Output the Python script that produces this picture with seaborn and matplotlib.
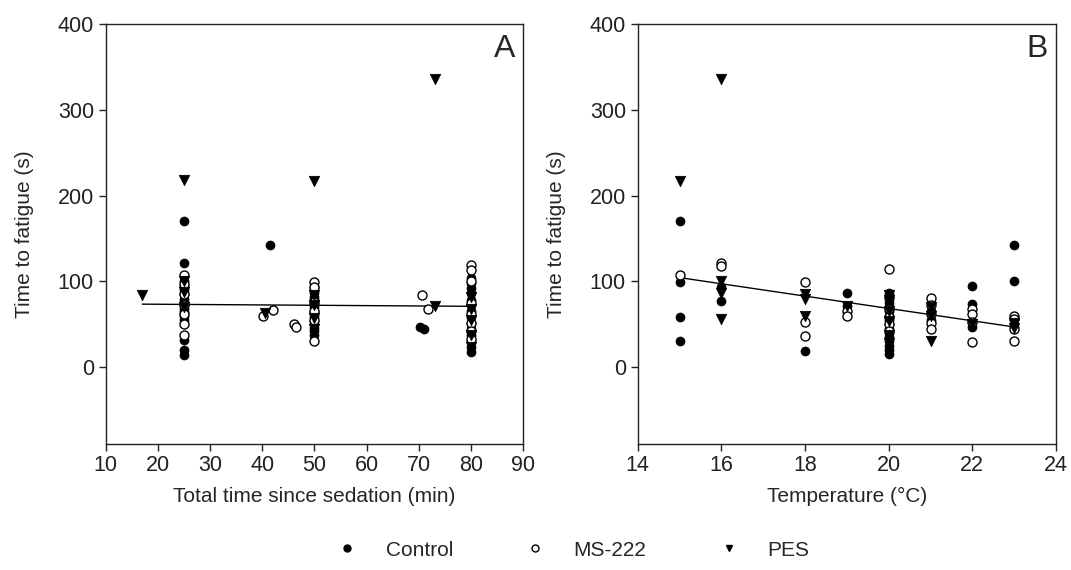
"""Time to fatigue vs. time since sedation (A) and temperature (B)."""

import matplotlib

matplotlib.use("Agg")
import matplotlib.pyplot as plt
import numpy as np
import seaborn as sns
from matplotlib.lines import Line2D


# Panel A: total time since sedation (min)
A_CONTROL_X = [25] * 16 + [41.5, 70.3, 71] + [50] * 15 + [80] * 14
A_CONTROL_Y = [170, 122, 100, 95, 90, 85, 80, 76, 72, 68, 64, 60, 55, 32, 20, 14,
               143, 47, 45,
               94, 90, 86, 82, 78, 74, 70, 66, 62, 58, 54, 50, 46, 42, 38,
               104, 98, 92, 87, 78, 72, 66, 58, 52, 45, 38, 30, 24, 18]
A_MS222_X = [25] * 7 + [40.2, 42.1, 46, 46.5] + [50] * 6 + [70.5, 71.8] + [80] * 8
A_MS222_Y = [107, 97, 85, 73, 62, 50, 37,
             60, 67, 50, 47,
             99, 93, 76, 65, 55, 30,
             84, 68,
             119, 113, 100, 75, 62, 52, 42, 33]
A_PES_X = [17] + [25] * 4 + [40.5] + [50] * 5 + [73, 73] + [80] * 5
A_PES_Y = [84, 218, 100, 88, 70, 63, 217, 84, 72, 57, 45, 336, 71, 82, 68, 55, 38, 24]
A_FIT = [74.2, -0.04]  # intercept, slope

# Panel B: temperature (°C)
B_CONTROL_X = [15] * 4 + [16] * 2 + [18] + [19] * 2 + [20] * 15 + [21] * 3 + [22] * 4 + [23] * 3
B_CONTROL_Y = [170, 99, 59, 31, 93, 77, 19, 86, 71,
               86, 80, 75, 70, 65, 60, 55, 50, 45, 40, 35, 30, 25, 20, 15,
               75, 65, 55, 95, 74, 53, 47, 143, 101, 48]
B_MS222_X = [15] + [16] * 2 + [18] * 3 + [19] * 2 + [20] * 6 + [21] * 5 + [22] * 4 + [23] * 4
B_MS222_Y = [107, 122, 118, 99, 53, 36, 65, 60,
             114, 82, 68, 58, 50, 42,
             81, 72, 62, 52, 45, 68, 62, 53, 29, 60, 56, 44, 30]
B_PES_X = [15] + [16] * 4 + [18] * 3 + [19] + [20] * 6 + [21] * 3 + [22] + [23] * 2
B_PES_Y = [217, 336, 101, 86, 56, 85, 80, 60, 71,
           84, 78, 66, 54, 38, 28, 70, 60, 31, 50, 52, 46]
B_FIT = [212.5, -7.2]

GROUPS = ["Control", "MS-222", "PES"]

sns.set_style("ticks")
plt.rcParams["font.family"] = ["Liberation Sans", "DejaVu Sans"]

fig = plt.figure(figsize=(10.71, 5.7), dpi=100)
ax_a = fig.add_axes([0.0987, 0.2205, 0.3899, 0.7369])
ax_b = fig.add_axes([0.5954, 0.2205, 0.3906, 0.7369])


def draw_panel(ax, series, fit, xlim, xticks, xlabel, letter):
    styles = [
        dict(marker="o", s=42, color="black", edgecolor="black"),
        dict(marker="o", s=42, color="white", edgecolor="black", linewidth=1.0),
        dict(marker="v", s=55, color="black", edgecolor="black"),
    ]
    for (xs, ys), st in zip(series, styles):
        sns.scatterplot(x=xs, y=ys, ax=ax, zorder=3, **st)
    all_x = np.concatenate([np.asarray(s[0], float) for s in series])
    fx = np.array([all_x.min(), all_x.max()])
    sns.lineplot(x=fx, y=fit[0] + fit[1] * fx, ax=ax, color="black", linewidth=1.0, zorder=2)
    ax.set_xlim(*xlim)
    ax.set_ylim(-90, 400)
    ax.set_xticks(xticks)
    ax.set_yticks([0, 100, 200, 300, 400])
    ax.tick_params(labelsize=15.5, length=5, width=1, direction="out", colors="#222222")
    ax.tick_params(axis="x", pad=2.5)
    for sp in ax.spines.values():
        sp.set_visible(True)
        sp.set_linewidth(1.0)
        sp.set_color("#222222")
    ax.set_xlabel(xlabel, fontsize=15, labelpad=8)
    ax.set_ylabel("Time to fatigue (s)", fontsize=15, labelpad=17)
    ax.text(0.955, 0.94, letter, transform=ax.transAxes, fontsize=23,
            ha="center", va="center")


draw_panel(ax_a, [(A_CONTROL_X, A_CONTROL_Y), (A_MS222_X, A_MS222_Y), (A_PES_X, A_PES_Y)],
           A_FIT, (10, 90), range(10, 91, 10), "Total time since sedation (min)", "A")
draw_panel(ax_b, [(B_CONTROL_X, B_CONTROL_Y), (B_MS222_X, B_MS222_Y), (B_PES_X, B_PES_Y)],
           B_FIT, (14, 24), range(14, 25, 2), "Temperature (°C)", "B")

handles = [
    Line2D([], [], marker="o", linestyle="", markersize=5, markerfacecolor="black", markeredgecolor="black"),
    Line2D([], [], marker="o", linestyle="", markersize=5, markerfacecolor="white", markeredgecolor="black"),
    Line2D([], [], marker="v", linestyle="", markersize=5, markerfacecolor="black", markeredgecolor="black"),
]
fig.legend(handles, GROUPS, loc="center", bbox_to_anchor=(0.535, 0.035), ncol=3,
           frameon=False, fontsize=15, handlelength=1, handletextpad=1.35,
           columnspacing=3.45, numpoints=1)

fig.savefig("out.png", dpi=100)
